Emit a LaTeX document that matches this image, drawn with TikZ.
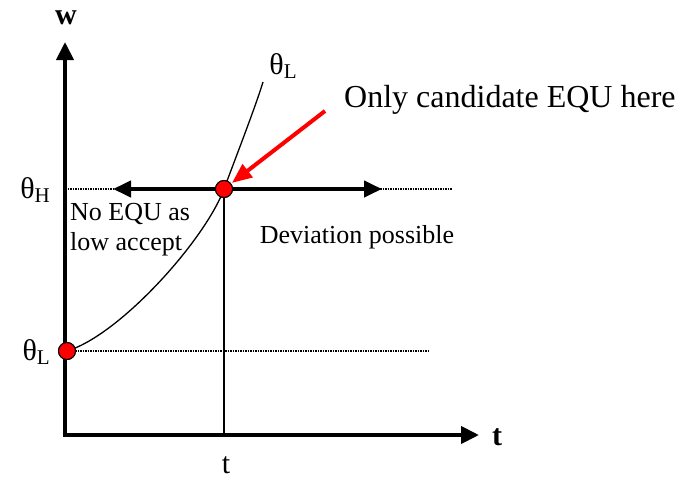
\documentclass[tikz,border=0pt]{standalone}
\usepackage{fontspec}
\setmainfont{Liberation Serif}
\usetikzlibrary{arrows.meta}
\newcommand\thsub[1]{θ\raisebox{-0.35ex}{\fontsize{21}{21}\selectfont #1}}

\tikzset{
  axisline/.style={line width=4pt, {Triangle[length=18pt,width=17pt]}-{Triangle[length=18pt,width=17pt]}},
  thickarrow/.style={line width=4pt, -{Triangle[length=18pt,width=16pt]}},
  guide/.style={densely dotted, line width=1.5pt},
  reddot/.style={circle, draw=black, fill=red, line width=1pt, minimum size=17pt, inner sep=0pt},
  lbl/.style={font=\fontsize{30}{34}\selectfont, inner sep=0pt},
}

\begin{document}
\begin{tikzpicture}[x=1pt,y=-1pt]
\useasboundingbox (0,0) rectangle (691,480);

\coordinate (O) at (65,435);
\coordinate (Wtop) at (65,42);
\coordinate (Tend) at (479,435);
\coordinate (Hend) at (452,189);
\coordinate (Lend) at (428,351);
\coordinate (lefttip) at (113,189);
\coordinate (righttip) at (382,189);
\coordinate (tfoot) at (224,435);
\coordinate (curvetop) at (263,82);
\coordinate (redstart) at (325,111);

  % guides
  \draw[guide] (O |- Hend) -- (Hend);
  \draw[guide] (O |- Lend) -- (Lend);

  % axes
  \draw[axisline] (Wtop) -- (O) -- (Tend);

  \node[reddot] (dotH) at (224,189) {};
  \node[reddot] (dotL) at (67,351) {};

   \draw[line width=1.2pt] (dotH.south) -- (tfoot);
   \draw[thickarrow] (dotH.west) -- (lefttip);
   \draw[thickarrow] (dotH.east) -- (righttip);

   % theta_L curve
   \draw[line width=1.3pt] (dotL.center) .. controls (120,335) and (205,240) .. (dotH.center)
        .. controls (239,149) and (256,105) .. (curvetop);
   \node[reddot] at (dotH) {};
   \node[reddot] at (dotL) {};

   \draw[red, line width=4pt, -{Triangle[length=20pt,width=16pt]}, shorten >=1pt] (redstart) -- (dotH);

   \node[font=\bfseries\fontsize{30}{34}\selectfont, inner sep=0pt] (wlbl) at (66,18) {w};
   \node[font=\bfseries\fontsize{30}{34}\selectfont, inner sep=0pt] (tlbl) at (497,437) {t};
   \node[lbl, anchor=east] (thH) at (50,190) {\thsub{H}};
   \node[lbl, anchor=east] (thL) at (50,352) {\thsub{L}};
   \node[lbl] (thLtop) at (283,66) {\thsub{L}};
   \node[lbl] (tval) at (226,465) {t};
   \node[font=\fontsize{32}{36}\selectfont, inner sep=0pt, anchor=west] (cand) at (344,100) {Only candidate EQU here};
   \node[font=\fontsize{26}{30}\selectfont, inner sep=0pt] (dev) at (357,237) {Deviation possible};
   \node[font=\fontsize{26}{30}\selectfont, inner sep=0pt, anchor=west, align=left] (noequ) at (70,230) {No EQU as\\low accept};
\end{tikzpicture}
\end{document}
